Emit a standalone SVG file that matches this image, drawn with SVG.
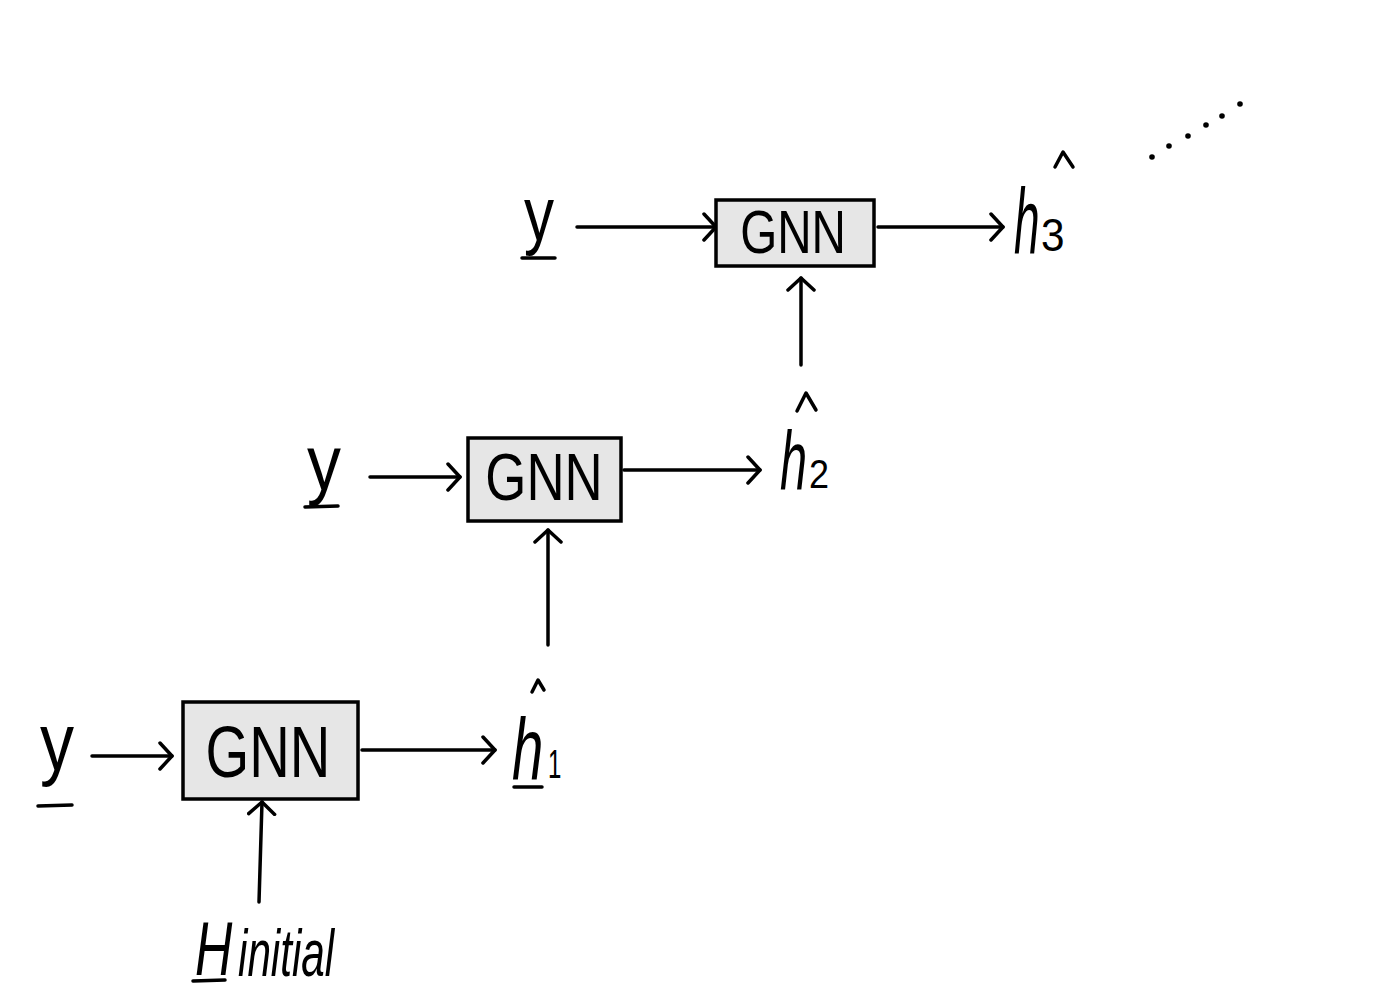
<svg xmlns="http://www.w3.org/2000/svg" width="1373" height="1000" viewBox="0 0 1373 1000">
<style>
.box{fill:#e6e6e6;stroke:#000;stroke-width:3.5}
.lbl{font-family:"Liberation Sans","DejaVu Sans",sans-serif;fill:#000}
.gnn{font-family:"Liberation Sans","DejaVu Sans",sans-serif;fill:#000;text-anchor:middle}
.ul{stroke:#000;stroke-width:3.5;stroke-linecap:round;fill:none}
.hat{stroke:#000;stroke-width:3.5;stroke-linecap:round;stroke-linejoin:round;fill:none}
.conn{stroke:#000;stroke-width:3.5;stroke-linecap:round;fill:none;marker-end:url(#arr)}
.it{font-style:italic}
</style>
<defs>
<marker id="arr" viewBox="0 0 16 30" refX="14" refY="15" markerWidth="16" markerHeight="30" markerUnits="userSpaceOnUse" orient="auto">
<path d="M2,2 L14,15 L2,28" fill="none" stroke="#000" stroke-width="3.5" stroke-linecap="round" stroke-linejoin="round"/>
</marker>
</defs>
<rect width="1373" height="1000" fill="#fff"/>

<g id="connectors">
<line class="conn" x1="92" y1="756" x2="172" y2="756"/>
<line class="conn" x1="362" y1="750" x2="495" y2="750"/>
<line class="conn" x1="259" y1="902" x2="262" y2="802"/>
<line class="conn" x1="548" y1="645" x2="548" y2="530"/>
<line class="conn" x1="370" y1="477" x2="460" y2="477"/>
<line class="conn" x1="624" y1="470" x2="760" y2="470"/>
<line class="conn" x1="801" y1="365" x2="801" y2="278"/>
<line class="conn" x1="577" y1="227" x2="716" y2="227"/>
<line class="conn" x1="878" y1="227" x2="1003" y2="227"/>
</g>

<g id="gnn1">
<rect class="box" x="183" y="702" width="175" height="97"/>
<text class="gnn" transform="translate(268,777) scale(0.78,1)" font-size="72">GNN</text>
</g>
<g id="gnn2">
<rect class="box" x="468" y="438" width="153" height="83"/>
<text class="gnn" transform="translate(544,500) scale(0.8,1)" font-size="66">GNN</text>
</g>
<g id="gnn3">
<rect class="box" x="716" y="200" width="158" height="66"/>
<text class="gnn" transform="translate(793,253) scale(0.78,1)" font-size="61">GNN</text>
</g>

<g id="y1">
<text class="lbl" transform="translate(40,770) scale(0.83,1)" font-size="82">y</text>
<line class="ul" x1="38" y1="806" x2="72" y2="805"/>
</g>
<g id="y2">
<text class="lbl" transform="translate(307,490) scale(0.87,1)" font-size="78">y</text>
<line class="ul" x1="305" y1="507" x2="338" y2="506"/>
</g>
<g id="y3">
<text class="lbl" transform="translate(524,240) scale(0.79,1)" font-size="76">y</text>
<line class="ul" x1="522" y1="258" x2="555" y2="258"/>
</g>

<g id="h1">
<path class="hat" d="M532,692 L538,680 L544,690"/>
<text class="lbl it" transform="translate(512,779) scale(0.64,1)" font-size="88">h</text>
<text class="lbl" transform="translate(548,778) scale(0.6,1)" font-size="40">1</text>
<line class="ul" x1="514" y1="787" x2="542" y2="787"/>
</g>
<g id="h2">
<path class="hat" d="M797,411 L806,393 L816,410"/>
<text class="lbl it" transform="translate(780,490) scale(0.58,1)" font-size="84">h</text>
<text class="lbl" transform="translate(809,488) scale(0.9,1)" font-size="40">2</text>
</g>
<g id="h3">
<path class="hat" d="M1055,167 L1063,152 L1073,167"/>
<text class="lbl it" transform="translate(1014,253) scale(0.5,1)" font-size="92">h</text>
<text class="lbl" transform="translate(1041,251) scale(0.92,1)" font-size="46">3</text>
</g>

<g id="hinitial">
<text class="lbl it" transform="translate(195,975) scale(0.68,1)" font-size="76">H</text>
<text class="lbl it" transform="translate(238,976) scale(0.64,1)" font-size="66">initial</text>
<line class="ul" x1="193" y1="981" x2="225" y2="980"/>
</g>

<g id="dots" fill="#000">
<circle cx="1152" cy="157" r="2.8"/>
<circle cx="1169" cy="146" r="2.8"/>
<circle cx="1188" cy="136" r="2.8"/>
<circle cx="1206" cy="125" r="2.8"/>
<circle cx="1222" cy="116" r="2.8"/>
<circle cx="1240" cy="104" r="2.8"/>
</g>
</svg>
